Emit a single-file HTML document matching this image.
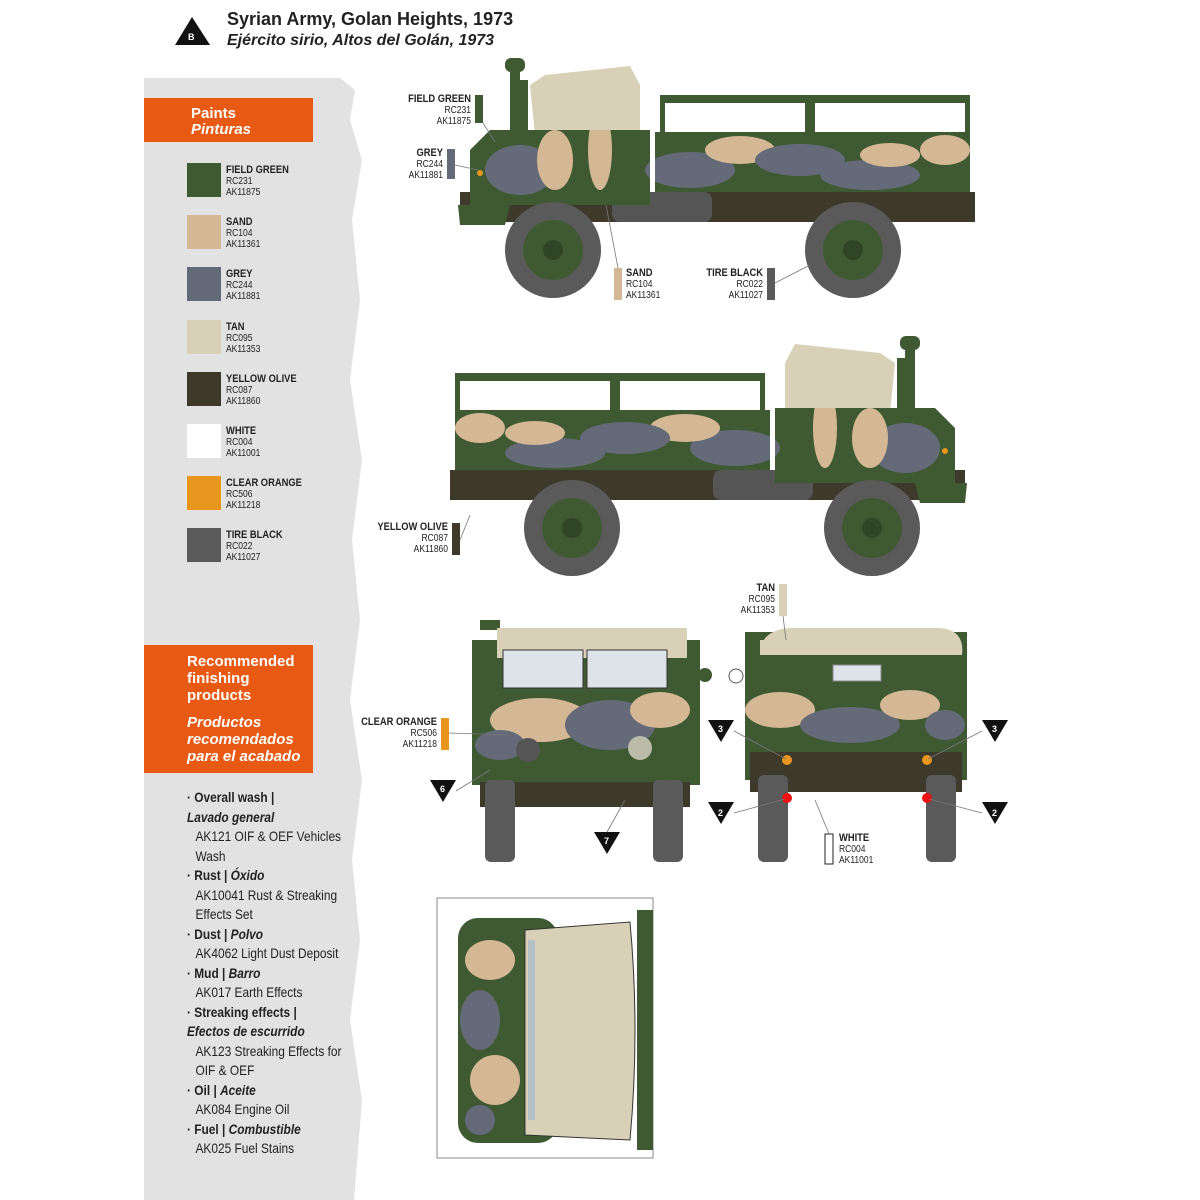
<!DOCTYPE html>
<html><head><meta charset="utf-8"><style>
body{margin:0;width:1200px;height:1200px;background:#fff;position:relative;overflow:hidden;font-family:"Liberation Sans",sans-serif}
.a{position:absolute}
.sw{position:absolute;left:187px;width:34px;height:34px}
.sl{position:absolute;left:226px;font-size:10px;line-height:11px;color:#222;white-space:nowrap;font-family:"Liberation Sans Narrow","Liberation Sans",sans-serif;transform:scaleX(.85);transform-origin:left}
.sl b{font-size:11px}
.r{width:100px;text-align:right;transform-origin:right}
.hd{position:absolute;left:144px;width:169px;background:#e85a14;color:#fff;font-weight:bold}
.list{position:absolute;left:187px;top:788px;font-size:14px;line-height:19.5px;color:#222;transform:scaleX(.85);transform-origin:left;width:200px;white-space:nowrap}
.list .i{padding-left:10px}
</style></head><body>
<svg class="a" style="left:0;top:0" width="1200" height="1200">
<path d="M144 78 L340 78 L355 90 L350 120 L362 160 L352 220 L360 300 L350 380 L362 460 L352 540 L360 620 L350 700 L362 780 L352 860 L360 940 L350 1020 L362 1100 L354 1200 L144 1200 Z" fill="#e2e2e2"/>
<polygon points="175,45 210,45 192,17" fill="#111"/>
<text x="188" y="40" font-size="9" fill="#fff" font-weight="bold">B</text>
<defs>
<clipPath id="cp"><path d="M470 150 L490 130 L650 130 L650 205 L470 205 Z M655 132 L970 132 L970 192 L655 192 Z"/></clipPath>
<g id="side">
<rect x="460" y="192" width="515" height="30" fill="#3d3a2c"/>
<rect x="612" y="192" width="100" height="30" rx="8" fill="#555"/>
<rect x="662" y="95" width="145" height="8" fill="#3f5a32"/><rect x="812" y="95" width="155" height="8" fill="#3f5a32"/>
<rect x="660" y="95" width="5" height="40" fill="#3f5a32"/><rect x="805" y="95" width="5" height="40" fill="#3f5a32"/><rect x="810" y="95" width="5" height="40" fill="#3f5a32"/><rect x="965" y="95" width="5" height="40" fill="#3f5a32"/>
<path d="M530 85 L545 75 L630 66 L640 85 L640 135 L535 135 Z" fill="#d9d0b8"/>
<rect x="510" y="70" width="10" height="120" fill="#3f5a32"/><rect x="505" y="58" width="20" height="14" rx="6" fill="#3f5a32"/>
<rect x="520" y="80" width="8" height="60" fill="#3f5a32"/>
<g clip-path="url(#cp)">
<rect x="460" y="125" width="520" height="90" fill="#3f5a32"/>
<ellipse cx="520" cy="170" rx="35" ry="25" fill="#646a78"/>
<ellipse cx="555" cy="160" rx="18" ry="30" fill="#d4b896"/>
<ellipse cx="600" cy="150" rx="12" ry="40" fill="#d4b896"/>
<ellipse cx="690" cy="170" rx="45" ry="18" fill="#646a78"/>
<ellipse cx="740" cy="150" rx="35" ry="14" fill="#d4b896"/>
<ellipse cx="800" cy="160" rx="45" ry="16" fill="#646a78"/>
<ellipse cx="870" cy="175" rx="50" ry="15" fill="#646a78"/>
<ellipse cx="890" cy="155" rx="30" ry="12" fill="#d4b896"/>
<ellipse cx="945" cy="150" rx="25" ry="15" fill="#d4b896"/>
</g>
<path d="M458 205 L510 205 L505 225 L460 225 Z" fill="#3f5a32"/>
<circle cx="553" cy="250" r="48" fill="#5a5a5a"/><circle cx="553" cy="250" r="30" fill="#3f5a32"/><circle cx="553" cy="250" r="10" fill="#2f4526"/>
<circle cx="853" cy="250" r="48" fill="#5a5a5a"/><circle cx="853" cy="250" r="30" fill="#3f5a32"/><circle cx="853" cy="250" r="10" fill="#2f4526"/>
<circle cx="480" cy="173" r="3" fill="#e8961e"/>
</g>
</defs>
<use href="#side"/>
<use href="#side" transform="translate(1425,278) scale(-1,1)"/>
<rect x="480" y="620" width="20" height="10" fill="#3f5a32"/>
<rect x="472" y="640" width="228" height="145" fill="#3f5a32"/>
<rect x="497" y="628" width="190" height="30" fill="#d9d0b8"/>
<rect x="503" y="650" width="80" height="38" fill="#dde3e8" stroke="#333"/><rect x="587" y="650" width="80" height="38" fill="#dde3e8" stroke="#333"/>
<ellipse cx="540" cy="720" rx="50" ry="22" fill="#d4b896"/><ellipse cx="610" cy="725" rx="45" ry="25" fill="#646a78"/><ellipse cx="660" cy="710" rx="30" ry="18" fill="#d4b896"/><ellipse cx="500" cy="745" rx="25" ry="15" fill="#646a78"/>
<circle cx="528" cy="750" r="12" fill="#555"/><circle cx="640" cy="748" r="12" fill="#bba"/>
<circle cx="705" cy="675" r="7" fill="#3f5a32"/>
<rect x="480" y="782" width="210" height="25" fill="#3d3a2c"/>
<rect x="485" y="780" width="30" height="82" rx="6" fill="#5a5a5a"/><rect x="653" y="780" width="30" height="82" rx="6" fill="#5a5a5a"/>
<rect x="745" y="632" width="222" height="148" fill="#3f5a32"/>
<path d="M760 655 Q760 630 790 628 L940 628 Q965 630 962 655 Z" fill="#d9d0b8"/>
<rect x="760" y="640" width="200" height="15" fill="#d9d0b8"/>
<rect x="833" y="665" width="48" height="16" fill="#dde3e8" stroke="#888"/>
<ellipse cx="780" cy="710" rx="35" ry="18" fill="#d4b896"/><ellipse cx="850" cy="725" rx="50" ry="18" fill="#646a78"/><ellipse cx="910" cy="705" rx="30" ry="15" fill="#d4b896"/><ellipse cx="945" cy="725" rx="20" ry="15" fill="#646a78"/>
<circle cx="736" cy="676" r="7" fill="#fff" stroke="#555"/>
<rect x="750" y="752" width="212" height="40" fill="#3d3a2c"/>
<circle cx="787" cy="760" r="5" fill="#e8961e"/><circle cx="927" cy="760" r="5" fill="#e8961e"/>
<rect x="758" y="775" width="30" height="87" rx="6" fill="#5a5a5a"/><rect x="926" y="775" width="30" height="87" rx="6" fill="#5a5a5a"/>
<circle cx="787" cy="798" r="5" fill="#e11"/><circle cx="927" cy="798" r="5" fill="#e11"/>
<g fill="#111"><polygon points="708,720 734,720 721,742"/><polygon points="982,720 1008,720 995,742"/><polygon points="708,802 734,802 721,824"/><polygon points="982,802 1008,802 995,824"/><polygon points="430,780 456,780 443,802"/><polygon points="594,832 620,832 607,854"/></g>
<g fill="#fff" font-size="9" font-weight="bold"><text x="718" y="732">3</text><text x="992" y="732">3</text><text x="718" y="816">2</text><text x="992" y="816">2</text><text x="440" y="792">6</text><text x="604" y="844">7</text></g>
<rect x="437" y="898" width="216" height="260" fill="#fff" stroke="#888"/>
<rect x="458" y="918" width="100" height="225" rx="20" fill="#3f5a32"/>
<ellipse cx="490" cy="960" rx="25" ry="20" fill="#d4b896"/><ellipse cx="480" cy="1020" rx="20" ry="30" fill="#646a78"/><ellipse cx="495" cy="1080" rx="25" ry="25" fill="#d4b896"/><ellipse cx="480" cy="1120" rx="15" ry="15" fill="#646a78"/>
<path d="M525 930 L630 922 Q640 1030 630 1140 L525 1135 Z" fill="#d9d0b8" stroke="#333"/>
<rect x="528" y="940" width="7" height="180" fill="#b5c0c8"/>
<rect x="637" y="910" width="16" height="240" fill="#3f5a32"/>
<rect x="475" y="95" width="8" height="28" fill="#3f5a32"/>
<rect x="447" y="149" width="8" height="30" fill="#646a78"/>
<rect x="614" y="268" width="8" height="32" fill="#d4b896"/>
<rect x="767" y="268" width="8" height="32" fill="#5a5a5a"/>
<rect x="452" y="523" width="8" height="32" fill="#3d3a2c"/>
<rect x="779" y="584" width="8" height="32" fill="#d9d0b8"/>
<rect x="441" y="718" width="8" height="32" fill="#e8961e"/>
<rect x="825" y="834" width="8" height="30" fill="#fff" stroke="#222"/>
<g stroke="#777" stroke-width="0.8" fill="none"><line x1="483" y1="123" x2="495" y2="142"/><line x1="455" y1="165" x2="478" y2="170"/><line x1="618" y1="268" x2="606" y2="205"/><line x1="775" y1="283" x2="810" y2="265"/><line x1="460" y1="540" x2="470" y2="515"/><line x1="783" y1="616" x2="786" y2="640"/><line x1="449" y1="733" x2="510" y2="735"/><line x1="829" y1="834" x2="815" y2="800"/><line x1="734" y1="731" x2="786" y2="759"/><line x1="982" y1="731" x2="928" y2="759"/><line x1="734" y1="813" x2="785" y2="799"/><line x1="982" y1="813" x2="929" y2="799"/><line x1="456" y1="791" x2="490" y2="770"/><line x1="607" y1="832" x2="625" y2="800"/></g>
</svg>
<div class="a" style="left:227px;top:9px;font-size:18px;font-weight:bold;color:#222">Syrian Army, Golan Heights, 1973</div>
<div class="a" style="left:227px;top:32px;font-size:16px;font-weight:bold;font-style:italic;color:#222">Ejército sirio, Altos del Golán, 1973</div>
<div class="hd" style="top:98px;height:44px;font-size:15px;line-height:16px"><div style="padding:8px 0 0 47px">Paints<br><i>Pinturas</i></div></div>
<div class="sw" style="top:163px;background:#3f5a32"></div><div class="sl" style="top:165px"><b>FIELD GREEN</b><br>RC231<br>AK11875</div>
<div class="sw" style="top:215px;background:#d4b896"></div><div class="sl" style="top:217px"><b>SAND</b><br>RC104<br>AK11361</div>
<div class="sw" style="top:267px;background:#646a78"></div><div class="sl" style="top:269px"><b>GREY</b><br>RC244<br>AK11881</div>
<div class="sw" style="top:320px;background:#d9d0b8"></div><div class="sl" style="top:322px"><b>TAN</b><br>RC095<br>AK11353</div>
<div class="sw" style="top:372px;background:#3d3a2c"></div><div class="sl" style="top:374px"><b>YELLOW OLIVE</b><br>RC087<br>AK11860</div>
<div class="sw" style="top:424px;background:#fff"></div><div class="sl" style="top:426px"><b>WHITE</b><br>RC004<br>AK11001</div>
<div class="sw" style="top:476px;background:#e8961e"></div><div class="sl" style="top:478px"><b>CLEAR ORANGE</b><br>RC506<br>AK11218</div>
<div class="sw" style="top:528px;background:#5a5a5a"></div><div class="sl" style="top:530px"><b>TIRE BLACK</b><br>RC022<br>AK11027</div>
<div class="hd" style="top:645px;height:128px;font-size:15px;line-height:17px"><div style="padding:8px 0 0 43px">Recommended<br>finishing<br>products<br><div style="height:10px"></div><i>Productos<br>recomendados<br>para el acabado</i></div></div>
<div class="list">
<div><b>· Overall wash |</b></div><div><b><i>Lavado general</i></b></div><div class="i">AK121 OIF &amp; OEF Vehicles</div><div class="i">Wash</div>
<div><b>· Rust | <i>Óxido</i></b></div><div class="i">AK10041 Rust &amp; Streaking</div><div class="i">Effects Set</div>
<div><b>· Dust | <i>Polvo</i></b></div><div class="i">AK4062 Light Dust Deposit</div>
<div><b>· Mud | <i>Barro</i></b></div><div class="i">AK017 Earth Effects</div>
<div><b>· Streaking effects |</b></div><div><b><i>Efectos de escurrido</i></b></div><div class="i">AK123 Streaking Effects for</div><div class="i">OIF &amp; OEF</div>
<div><b>· Oil | <i>Aceite</i></b></div><div class="i">AK084 Engine Oil</div>
<div><b>· Fuel | <i>Combustible</i></b></div><div class="i">AK025 Fuel Stains</div>
</div>
<div class="sl r" style="left:371px;top:94px"><b>FIELD GREEN</b><br>RC231<br>AK11875</div>
<div class="sl r" style="left:343px;top:148px"><b>GREY</b><br>RC244<br>AK11881</div>
<div class="sl" style="left:626px;top:268px"><b>SAND</b><br>RC104<br>AK11361</div>
<div class="sl r" style="left:663px;top:268px"><b>TIRE BLACK</b><br>RC022<br>AK11027</div>
<div class="sl r" style="left:348px;top:522px"><b>YELLOW OLIVE</b><br>RC087<br>AK11860</div>
<div class="sl r" style="left:675px;top:583px"><b>TAN</b><br>RC095<br>AK11353</div>
<div class="sl r" style="left:337px;top:717px"><b>CLEAR ORANGE</b><br>RC506<br>AK11218</div>
<div class="sl" style="left:839px;top:833px"><b>WHITE</b><br>RC004<br>AK11001</div>
</body></html>
